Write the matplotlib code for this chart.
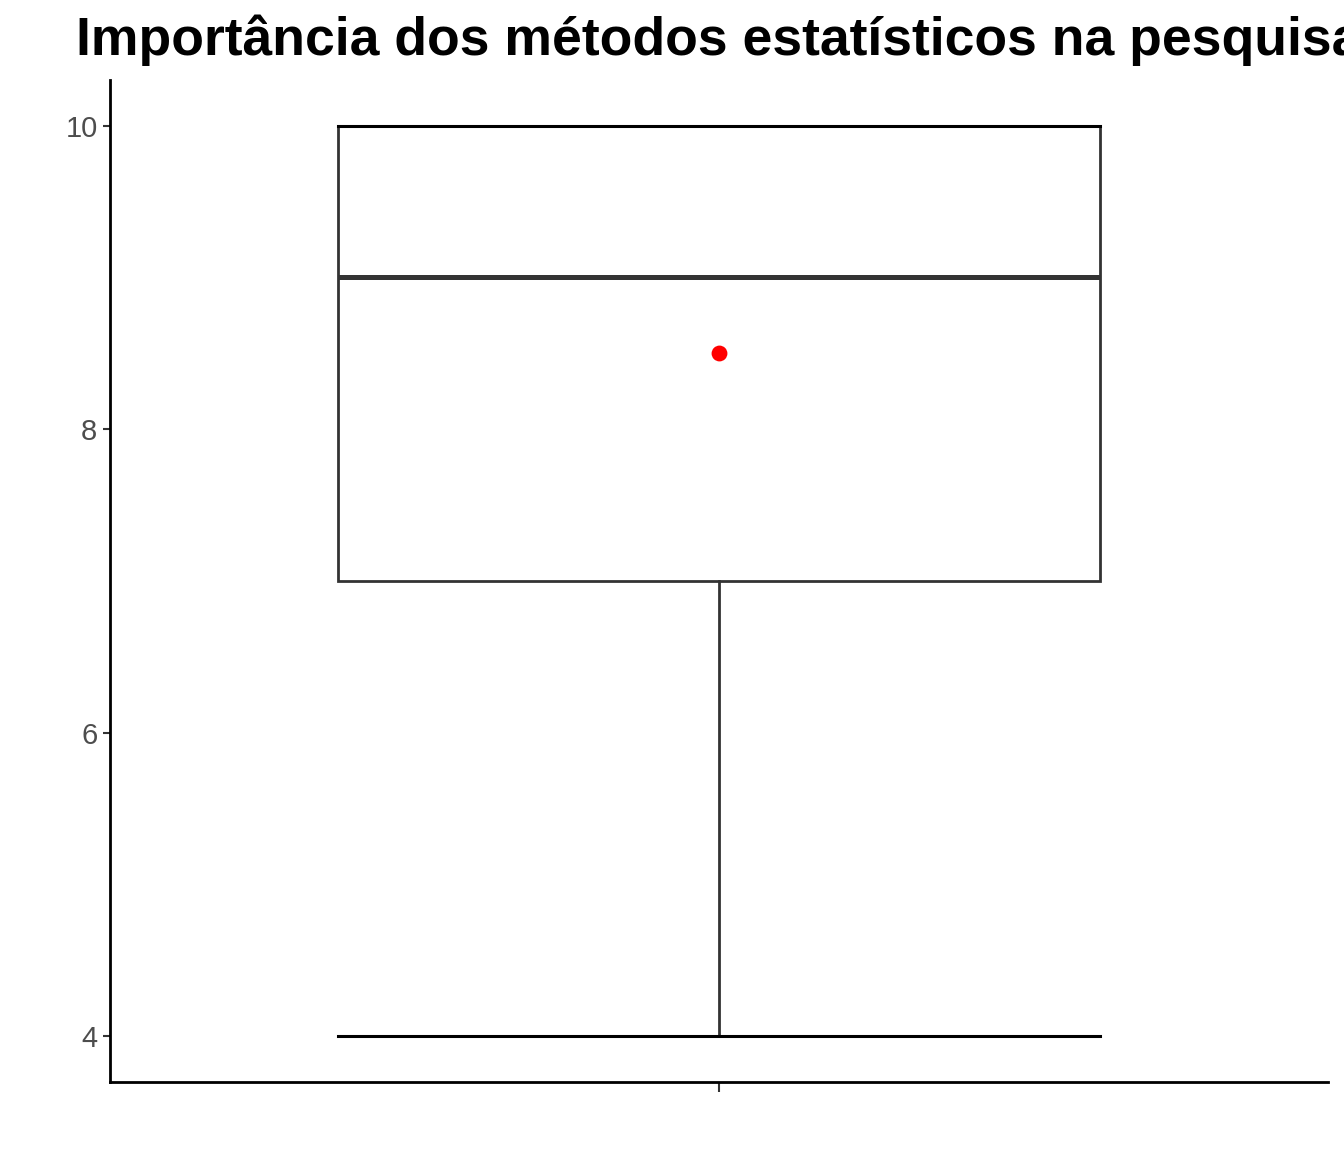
import matplotlib.pyplot as plt
import numpy as np

# summary of the answers (scale 0-10)
categories = [""]
q_min = [4]
q1 = [7]
medians = [9]
q3 = [10]
q_max = [10]
means = [8.5]

title = "Importância dos métodos estatísticos na pesquisa"

plt.rcParams['font.family'] = ['Liberation Sans', 'DejaVu Sans']

fig = plt.figure(figsize=(13.44, 11.52), dpi=100)
ax = fig.add_axes([110 / 1344, 1 - 1082 / 1152, 1218 / 1344, 1002 / 1152])

positions = np.arange(1, len(categories) + 1)
box_w = 0.75

stats = []
for i, lab in enumerate(categories):
    stats.append(dict(label=lab, whislo=q_min[i], q1=q1[i], med=medians[i],
                      q3=q3[i], whishi=q_max[i], mean=means[i], fliers=[]))

# lower/upper caps like stat_boxplot(geom = "errorbar")
ax.bxp(stats, positions=positions, widths=box_w, capwidths=box_w,
       showmeans=False, patch_artist=True,
       boxprops=dict(facecolor='white', edgecolor='#333333', linewidth=2),
       medianprops=dict(color='#333333', linewidth=3.6, solid_capstyle='butt'),
       whiskerprops=dict(color='#333333', linewidth=2),
       capprops=dict(color='black', linewidth=2.2),
       zorder=2)

ax.scatter(positions, means, s=130, color='red', zorder=4, linewidths=0)

ax.set_xlim(0.4, len(categories) + 0.6)
ax.set_ylim(3.7, 10.3)
ax.set_yticks([4, 6, 8, 10])
ax.set_xticks(positions)
ax.set_xticklabels(categories)

for s in ['top', 'right']:
    ax.spines[s].set_visible(False)
for s in ['left', 'bottom']:
    ax.spines[s].set_linewidth(2)
    ax.spines[s].set_color('black')

ax.tick_params(axis='y', length=5, width=1.5, color='#333333',
               labelsize=21, labelcolor='#4D4D4D', pad=4)
ax.tick_params(axis='x', length=7, width=1.5, color='#333333', labelsize=21)

# title is centred over the panel and runs past the right edge, as in the original
fig.text(719 / 1344, 1 - 55 / 1152, title, ha='center', va='baseline',
         fontsize=38.5, fontweight='bold')

fig.savefig('out.png', dpi=100)
